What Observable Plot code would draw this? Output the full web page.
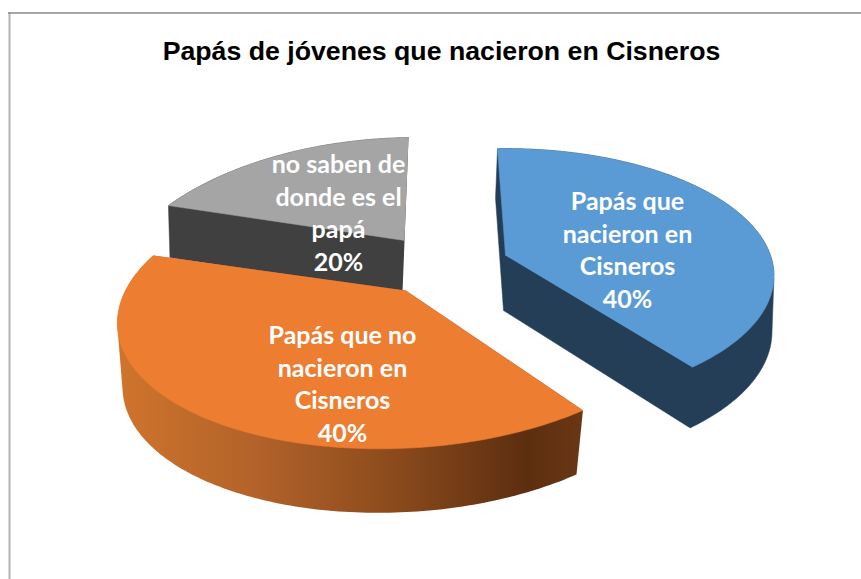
<!DOCTYPE html>
<html>
<head>
<meta charset="utf-8">
<style>html,body{margin:0;padding:0;background:#fff}svg{display:block}</style>
<script src="https://cdn.jsdelivr.net/npm/d3@7"></script>
<script src="https://cdn.jsdelivr.net/npm/@observablehq/plot@0.6"></script>
</head>
<body>
<script>
const titleText = "Papás de jóvenes que nacieron en Cisneros";
const categories = ["Papás que nacieron en Cisneros", "Papás que no nacieron en Cisneros", "no saben de donde es el papá"];
const shares = [40, 40, 20];
const labelLines = ["Papás que\nnacieron en\nCisneros", "Papás que no\nnacieron en\nCisneros", "no saben de\ndonde es el\npapá"];
const topColors = ["#5b9bd5", "#ed7d31", "#a5a5a5"];
const sideColors = ["#243e57", "url(#orangeSide)", "#404040"];
const startAngle = -2;

// Projection of each exploded slice: apex, ellipse radii, perspective, extrusion
const layout = [
  {ax: 505, ay: 255, a: 265,   b: 124, k: 0.16, sh: 0,   depth: 55, fx: 1.0,   fy: 1.05, lx: 627, ly: 200},
  {ax: 405, ay: 290, a: 280,   b: 133, k: 0.16, sh: -22, depth: 64, fx: 0.975, fy: 1.0,  lx: 342, ly: 334},
  {ax: 404, ay: 240, a: 273.6, b: 139, k: 0.35, sh: -15, depth: 52, fx: 0.985, fy: 1.0,  lx: 338, ly: 163}
];
const drawOrder = [2, 0, 1];

function project(L, deg, lower) {
  const t = deg * Math.PI / 180, u = Math.sin(t), v = -Math.cos(t), s = 1 / (1 - L.k * v);
  const dx = s * (L.a * u + L.sh * v), dy = s * L.b * v;
  return lower
    ? {x: L.ax - 2 + L.fx * dx, y: L.ay + L.depth + L.fy * dy}
    : {x: L.ax + dx, y: L.ay + dy};
}

let acc = startAngle;
const slices = shares.map((share, i) => {
  const from = acc, to = acc + share * 3.6;
  acc = to;
  return {i, from, to, L: layout[i]};
});

function facePolygon(sl, lower) {
  const angles = d3.range(sl.from, sl.to, 1).concat(sl.to);
  const apex = lower ? {x: sl.L.ax - 2, y: sl.L.ay + sl.L.depth} : {x: sl.L.ax, y: sl.L.ay};
  return [apex, ...angles.map(d => project(sl.L, d, lower))];
}
// Silhouette of the extruded wedge: the hull of its top and lower faces
function sidePolygon(sl) {
  const pts = [...facePolygon(sl, false), ...facePolygon(sl, true)].map(p => [p.x, p.y]);
  return d3.polygonHull(pts).map(([x, y]) => ({x, y}));
}
function poly(points, fill) {
  return Plot.line(points, {x: "x", y: "y", fill, stroke: fill.startsWith("url") ? "none" : fill, strokeWidth: 0.5});
}

const sliceMarks = drawOrder.flatMap(i => {
  const sl = slices[i];
  return [poly(sidePolygon(sl), sideColors[i]), poly(facePolygon(sl, false), topColors[i])];
});

const labels = shares.map((share, i) => ({
  text: `${labelLines[i]}\n${share}%`, x: layout[i].lx, y: layout[i].ly
}));

const defs = () => {
  const d = d3.create("svg:defs");
  const g = d.append("linearGradient").attr("id", "orangeSide")
    .attr("gradientUnits", "userSpaceOnUse")
    .attr("x1", 118).attr("x2", 582).attr("y1", 0).attr("y2", 0);
  [[0, "#cf742c"], [0.3, "#b2622a"], [0.6, "#8a4a1c"], [0.88, "#5c2e10"], [1, "#6a3713"]]
    .forEach(([o, c]) => g.append("stop").attr("offset", o).attr("stop-color", c));
  return d.node();
};

const chart = Plot.plot({
  width: 861, height: 579,
  margin: 0,
  x: {axis: null, domain: [0, 861], range: [0, 861]},
  y: {axis: null, domain: [0, 579], range: [0, 579]},
  style: {background: "#fff"},
  marks: [
    defs,
    Plot.ruleX([9], {y1: 12, y2: 579, stroke: "#b5b5b5", strokeWidth: 2}),
    Plot.ruleY([12.5], {x1: 8, x2: 861, stroke: "#8a8a8a", strokeWidth: 1.5}),
    ...sliceMarks,
    Plot.text([titleText], {
      x: 441, y: 51, text: d => d, fontFamily: "Liberation Sans", fontWeight: "bold",
      fontSize: 26.7, fill: "#000", textAnchor: "middle", lineAnchor: "middle"
    }),
    Plot.text(labels, {
      x: "x", y: "y", text: "text", fontFamily: "Lato", fontWeight: "bold",
      fontSize: 25, lineHeight: 1.31, fill: "#fff", textAnchor: "middle", lineAnchor: "top", dy: -14
    })
  ]
});
document.body.append(chart);
</script>
</body>
</html>
